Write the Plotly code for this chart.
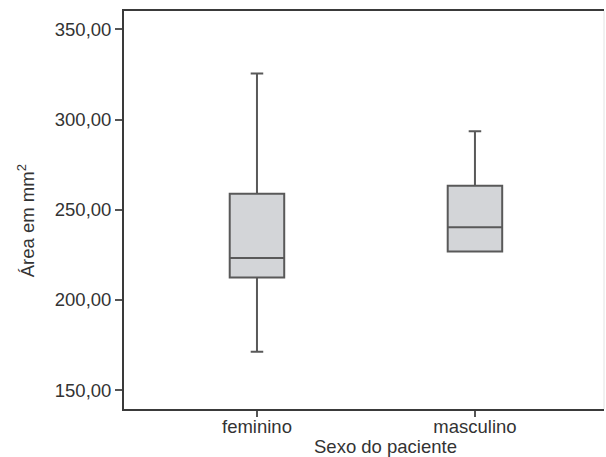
import plotly.graph_objects as go

# Summary statistics per group (area in mm²)
categorias = ["feminino", "masculino"]
minimo = [171.3, 226.8]
q1 = [212.4, 226.8]
mediana = [223.3, 240.3]
q3 = [258.9, 263.3]
maximo = [325.6, 293.5]

y_ticks = [150, 200, 250, 300, 350]

fig = go.Figure()
fig.add_trace(go.Box(
    x=[0, 1],
    q1=q1,
    median=mediana,
    q3=q3,
    lowerfence=minimo,
    upperfence=maximo,
    width=0.25,
    whiskerwidth=0.23,
    fillcolor="#d3d5d8",
    line=dict(color="#595959", width=2),
    boxpoints=False,
    hoverinfo="skip",
    showlegend=False,
))

font = dict(family="Liberation Sans, Arial, sans-serif", size=18.5, color="#333333")

fig.update_layout(
    width=606,
    height=457,
    margin=dict(l=124, r=2, t=11, b=48),
    paper_bgcolor="white",
    plot_bgcolor="white",
    separators=",.",
    font=font,
    xaxis=dict(
        range=[-0.61, 1.592],
        tickvals=[0, 1],
        ticktext=categorias,
        ticks="outside",
        ticklen=6,
        tickwidth=1.5,
        tickcolor="#555555",
        ticklabelstandoff=-6,
        showline=True,
        mirror=True,
        linecolor="#3a3a3a",
        linewidth=1.8,
        showgrid=False,
        zeroline=False,
        tickfont=font,
    ),
    yaxis=dict(
        range=[139.5, 360.2],
        tickvals=y_ticks,
        tickformat=".2f",
        ticks="outside",
        ticklen=7,
        tickwidth=1.5,
        tickcolor="#555555",
        showline=True,
        linecolor="#3a3a3a",
        linewidth=1.8,
        showgrid=False,
        zeroline=False,
        tickfont=font,
    ),
    shapes=[
        dict(type="line", xref="paper", yref="paper", x0=1, x1=1, y0=0, y1=1,
             line=dict(color="#e2e2e2", width=1)),
    ],
    annotations=[
        dict(text="Área em mm<sup>2</sup>", xref="paper", yref="paper",
             x=-0.204, y=0.472, textangle=-90, showarrow=False,
             xanchor="center", yanchor="middle", font=font),
        dict(text="Sexo do paciente", xref="paper", yref="paper",
             x=0.544, y=-0.094, showarrow=False,
             xanchor="center", yanchor="middle", font=font),
    ],
)

fig.write_html("out.html")
